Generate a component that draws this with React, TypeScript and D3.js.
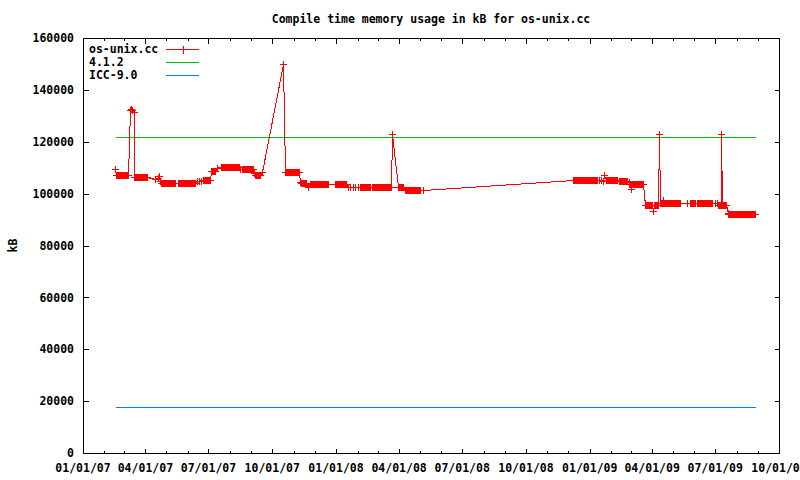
import React from "react";
import * as d3 from "d3";

// ---------- data ----------
const chartTitle = "Compile time memory usage in kB for os-unix.cc";
const yAxisLabel = "kB";
const seriesNames = ["os-unix.cc", "4.1.2", "ICC-9.0"];
const seriesColors = ["#ff0000", "#00c000", "#0080ff"];
const baseDate = "2007-01-01";
const xDomainDates = ["2007-01-01", "2009-10-01"];
const yDomain = [0, 160000];
const yTickValues = [0, 20000, 40000, 60000, 80000, 100000, 120000, 140000, 160000];

// os-unix.cc: days since 2007-01-01
const dayOffsets = [
  46,
  47, 48, 49, 50, 51, 52, 53, 54, 55, 56, 57, 58, 59, 60, 61, 62, 63, 64, 65,
  68, 69, 71, 73,
  74, 75, 76, 77, 78, 79, 80, 81, 82, 83, 84, 85, 86, 87, 88, 89, 90, 91, 92,
  104, 108, 109, 111,
  113, 114, 115, 116, 117, 118, 119, 120, 121, 122, 123, 124, 125, 126, 127, 128, 129, 130, 131, 132, 133,
  137, 138, 139, 140, 141, 142, 143, 144, 145, 146, 147, 148, 149, 150, 151, 152, 153, 154, 155, 156, 157, 158, 159, 160, 161,
  165, 168, 170,
  173, 174, 175, 176, 177, 178, 179, 180, 181, 182, 183,
  185, 186, 187, 188, 189, 190, 191, 193,
  199, 200, 201, 202, 203, 204, 205, 206, 207, 208, 209, 210, 211, 212, 213, 214, 215, 216, 217, 218, 219, 220, 221, 222, 223, 224, 225,
  227, 229,
  231, 232, 233, 234, 235, 236, 237, 238, 239, 240, 241, 242, 243, 244, 245,
  247, 248, 249, 250, 251, 252, 253, 254, 255, 258,
  289,
  291, 292, 293, 294, 295, 296, 297, 298, 299, 300, 301, 302, 303, 304, 305, 306, 307, 308, 309, 310, 311,
  313, 314, 315, 316, 317, 318, 319, 320, 321, 322, 325,
  327, 328, 329, 330, 331, 332, 333, 334, 335, 336, 337, 338, 339, 340, 341, 342, 343, 344, 345, 346, 347, 348, 349, 350, 351, 352, 353,
  363, 364, 365, 366, 367, 368, 369, 370, 371, 372, 373, 374, 375, 376, 377, 378, 379,
  382, 385, 389, 393, 397,
  400, 401, 402, 403, 404, 405, 406, 407, 408, 409, 410, 411, 412, 413, 414,
  417, 418, 419, 420, 421, 422, 423, 424, 425, 426, 427, 428, 429, 430, 431, 432, 433, 434, 435, 436, 437, 438, 439, 440, 441, 442, 443, 444, 445,
  446,
  455, 456, 457, 458, 459, 460, 461, 462,
  464, 465, 466, 467, 468, 469, 470, 471, 472, 473, 474, 475, 476, 477, 478, 479, 480, 481, 482, 483, 484, 485, 486, 491,
  707, 708, 709, 710, 711, 712, 713, 714, 715, 716, 717, 718, 719, 720, 721, 722, 723, 724, 725, 726, 727, 728, 729, 730, 731, 732, 733, 734, 735, 736, 737, 738, 739, 740, 741,
  744, 747, 750, 752,
  754, 755, 756, 757, 758, 759, 760, 761, 762, 763, 764, 765, 766, 767, 768, 769, 770,
  773, 774, 775, 776, 777, 778, 779, 780, 781, 782, 783, 784, 785,
  787, 788, 789, 790, 791, 792, 793, 794, 795, 796, 797, 798, 799, 800, 801, 802, 803, 804, 805, 806, 807, 808,
  810, 811, 812, 813, 814, 815, 816, 817, 818, 819, 820, 821, 822, 823, 824, 825, 826, 827, 828, 829, 830,
  831,
  833, 834, 835, 836, 837, 838, 839, 840, 841, 842, 843, 844, 845, 846, 847, 848, 849, 850, 851, 852, 853, 854, 855, 856, 857, 858, 859, 860, 861,
  871, 875, 876, 877, 878, 879, 880, 881, 882, 883,
  886, 887, 888, 889, 890, 891, 892, 893, 894, 895, 896, 897, 898, 899, 900, 901, 902, 903, 904, 905, 906, 907, 908,
  912, 914,
  916, 917, 918, 919, 920, 921, 922, 923, 924, 925, 926, 927, 928,
  930, 931, 932, 933, 934, 935, 936, 937, 938, 939, 940, 941, 942, 943, 944, 945, 946, 947, 948, 949, 950, 951, 952, 953, 954, 955, 956, 957, 958, 959, 960, 961, 962, 963, 964, 965, 966, 967, 968, 969,
];

// os-unix.cc: compile time memory usage in kB (same order as dayOffsets)
const memoryKB = [
  109500,
  107200, 107200, 107200, 107300, 107200, 107200, 107200, 107200, 107300, 107200, 107200, 107200, 107200, 107300, 107200, 107200, 107200, 107200, 107200,
  132300, 132700, 132400, 131300,
  106500, 106500, 106500, 106500, 106500, 106500, 106500, 106500, 106500, 106500, 106500, 106500, 106500, 106500, 106500, 106500, 106500, 106500, 106500,
  105800, 105900, 106800, 105000,
  104200, 104200, 104200, 104200, 104200, 104200, 104200, 104200, 104200, 104200, 104200, 104200, 104200, 104200, 104200, 104200, 104200, 104200, 104200, 104200, 104200,
  104200, 104200, 104200, 104200, 104200, 104200, 104200, 104200, 104200, 104200, 104200, 104200, 104200, 104200, 104200, 104200, 104200, 104200, 104200, 104200, 104200, 104200, 104200, 104200, 104200,
  104800, 104900, 104900,
  105400, 105400, 105400, 105400, 105400, 105400, 105400, 105400, 105400, 105400, 105400,
  108700, 108700, 108700, 108700, 108700, 108700, 108700, 109800,
  110100, 110100, 110100, 110100, 110100, 110100, 110100, 110100, 110100, 110100, 110100, 110100, 110100, 110400, 110400, 110400, 110400, 110400, 110400, 110400, 110400, 110400, 110400, 110400, 110400, 110400, 110400,
  109500, 109400,
  109400, 109400, 109400, 109400, 109400, 109400, 109400, 109400, 109400, 109400, 109400, 109400, 109400, 109400, 109400,
  107800, 107200, 107200, 107200, 107200, 107200, 107200, 107200, 107200, 108500,
  149900,
  108300, 108300, 108300, 108300, 108300, 108300, 108300, 108300, 108300, 108300, 108300, 108300, 108300, 108300, 108300, 108300, 108300, 108300, 108300, 108300, 108300,
  104600, 104000, 104000, 104000, 104000, 104000, 104000, 104000, 104000, 104000, 102600,
  103800, 103800, 103800, 103800, 103800, 103800, 103800, 103800, 103800, 103800, 103800, 103800, 103800, 103800, 103800, 103800, 103800, 103800, 103800, 103800, 103800, 103800, 103800, 103800, 103800, 103800, 103800,
  103800, 103800, 103800, 103800, 103800, 103800, 103800, 103800, 103800, 103800, 103800, 103800, 103800, 103800, 103800, 103800, 103800,
  102700, 102500, 102400, 102600, 102500,
  102600, 102600, 102600, 102600, 102600, 102600, 102600, 102600, 102600, 102600, 102600, 102600, 102600, 102600, 102600,
  102600, 102600, 102600, 102600, 102600, 102600, 102600, 102600, 102600, 102600, 102600, 102600, 102600, 102600, 102600, 102600, 102600, 102600, 102600, 102600, 102600, 102600, 102600, 102600, 102600, 102600, 102600, 102600, 102600,
  122800,
  102700, 102700, 102700, 102700, 102700, 102700, 102700, 102700,
  101300, 101300, 101300, 101300, 101300, 101300, 101300, 101300, 101300, 101300, 101300, 101300, 101300, 101300, 101300, 101300, 101300, 101300, 101300, 101300, 101300, 101300, 101300, 101300,
  105100, 105100, 105100, 105100, 105100, 105100, 105100, 105100, 105100, 105100, 105100, 105100, 105100, 105100, 105100, 105100, 105100, 105100, 105100, 105100, 105100, 105100, 105100, 105100, 105100, 105100, 105100, 105100, 105100, 105100, 105100, 105100, 105100, 105100, 105100,
  105100, 105100, 105000, 107200,
  105100, 105100, 105100, 105100, 105100, 105100, 105100, 105100, 105100, 105100, 105100, 105100, 105100, 105100, 105100, 105100, 105100,
  105000, 105000, 105000, 105000, 105000, 105000, 105000, 105000, 105000, 105000, 105000, 105000, 105000,
  104600, 103800, 103800, 103800, 101800, 103800, 103800, 103800, 103800, 103800, 103800, 103800, 103800, 103800, 103800, 103800, 103800, 103800, 103800, 103800, 103800, 103800,
  95600, 95600, 95600, 95600, 95600, 95600, 95600, 95600, 95600, 95600, 95600, 95600, 93400, 95600, 95600, 95600, 95600, 95600, 95600, 95600, 95600,
  123000,
  96500, 96500, 96500, 96500, 97400, 96500, 96500, 96500, 96500, 96500, 96500, 96500, 96500, 96500, 96500, 96500, 96500, 96500, 96500, 96500, 96500, 96500, 96500, 96500, 96500, 96500, 96500, 96500, 96500,
  96500, 96500, 96500, 96500, 96500, 96500, 96500, 96500, 96500, 96500,
  96500, 96500, 96500, 96500, 96500, 96500, 96500, 96500, 96500, 96500, 96500, 96500, 96500, 96500, 96500, 96500, 96500, 96500, 96500, 96500, 96500, 96500, 96500,
  96500, 96400,
  95500, 95500, 95500, 95500, 95500, 123000, 95500, 95500, 95500, 95500, 95500, 95500, 95500,
  92500, 92300, 92300, 92300, 92300, 92300, 92300, 92300, 92300, 92300, 92300, 92300, 92300, 92300, 92300, 92300, 92300, 92300, 92300, 92300, 92300, 92300, 92300, 92300, 92300, 92300, 92300, 92300, 92300, 92300, 92300, 92300, 92300, 92300, 92300, 92300, 92300, 92300, 92300, 92300,
];

// reference compilers (constant lines over the same period)
const referenceDays = [46, 969];
const gcc412KB = [121700, 121700];
const icc90KB = [17600, 17600];

// ---------- chart ----------
const FONT = "'DejaVu Sans Mono', 'Liberation Mono', monospace";

export default function App() {
  const W = 800;
  const H = 480;
  const left = 83;
  const right = 779;
  const top = 38;
  const bottom = 453;

  const parse = d3.utcParse("%Y-%m-%d");
  const base = parse(baseDate) as Date;
  const toDate = (d: number) => d3.utcDay.offset(base, d);

  const x = d3
    .scaleUtc()
    .domain([parse(xDomainDates[0]) as Date, parse(xDomainDates[1]) as Date])
    .range([left, right]);
  const y = d3.scaleLinear().domain(yDomain).range([bottom, top]);

  const px = (v: number) => Math.round(v) + 0.5;

  const n = Math.min(dayOffsets.length, memoryKB.length);
  const pts: [number, number][] = dayOffsets
    .slice(0, n)
    .map((d, i) => [x(toDate(d)), y(memoryKB[i])]);
  const lineGen = d3
    .line<[number, number]>()
    .x((p) => p[0])
    .y((p) => p[1]);

  const crossPath = (cx: number, cy: number, h = 3.5) => {
    const X = px(cx);
    const Y = px(cy);
    return `M${X - h},${Y}H${X + h}M${X},${Y - h}V${Y + h}`;
  };
  const crosses = pts.map((p) => crossPath(p[0], p[1])).join("");

  const refLine = (vals: number[]) =>
    lineGen(referenceDays.map((d, i) => [px(x(toDate(d))), px(y(vals[i]))] as [number, number])) || "";

  const months = d3.utcMonth.range(x.domain()[0], d3.utcDay.offset(x.domain()[1], 1));
  const fmt = d3.utcFormat("%m/%d/%y");
  const majorLen = 5;
  const minorLen = 2.5;

  const textStyle: React.CSSProperties = {
    fontFamily: FONT,
    fontWeight: "bold",
    fontSize: "11.5px",
  };

  const legendY = [49, 62, 74.5];

  return (
    <svg
      width={W}
      height={H}
      style={{ position: "absolute", left: 0, top: 0, background: "#fff" }}
    >
      <rect x={0} y={0} width={W} height={H} fill="#fff" />
      {/* title */}
      <text x={(left + right) / 2} y={23} textAnchor="middle" style={textStyle} fill="#000">
        {chartTitle}
      </text>
      {/* y axis label */}
      <text
        transform={`translate(17,${(top + bottom) / 2}) rotate(-90)`}
        textAnchor="middle"
        style={textStyle}
        fill="#000"
      >
        {yAxisLabel}
      </text>

      {/* ticks (mirrored on all four sides) */}
      <g shapeRendering="crispEdges" stroke="#000" strokeWidth={1}>
        {yTickValues.map((v) => (
          <g key={"yt" + v}>
            <line x1={px(left)} x2={px(left) + majorLen} y1={px(y(v))} y2={px(y(v))} />
            <line x1={px(right)} x2={px(right) - majorLen} y1={px(y(v))} y2={px(y(v))} />
          </g>
        ))}
        {months.map((m) => {
          const major = m.getUTCMonth() % 3 === 0;
          const len = major ? majorLen : minorLen;
          const xx = px(x(m));
          return (
            <g key={"xt" + m.getTime()}>
              <line x1={xx} x2={xx} y1={px(bottom)} y2={px(bottom) - len} />
              <line x1={xx} x2={xx} y1={px(top)} y2={px(top) + len} />
            </g>
          );
        })}
      </g>
      {yTickValues.map((v) => (
        <text
          key={"yl" + v}
          x={left - 9}
          y={y(v) + 4.2}
          textAnchor="end"
          style={textStyle}
          fill="#000"
        >
          {String(v)}
        </text>
      ))}
      {months
        .filter((m) => m.getUTCMonth() % 3 === 0)
        .map((m) => (
          <text
            key={"xl" + m.getTime()}
            x={x(m)}
            y={472}
            textAnchor="middle"
            style={textStyle}
            fill="#000"
          >
            {fmt(m)}
          </text>
        ))}

      {/* reference lines */}
      <path d={refLine(gcc412KB)} fill="none" stroke={seriesColors[1]} strokeWidth={1} shapeRendering="crispEdges" />
      <path d={refLine(icc90KB)} fill="none" stroke={seriesColors[2]} strokeWidth={1} shapeRendering="crispEdges" />

      {/* main series */}
      <path
        d={lineGen(pts.map((p) => [px(p[0]), px(p[1])] as [number, number])) || ""}
        fill="none"
        stroke={seriesColors[0]}
        strokeWidth={1}
        shapeRendering="crispEdges"
      />
      <path d={crosses} fill="none" stroke={seriesColors[0]} strokeWidth={1} shapeRendering="crispEdges" />

      {/* legend */}
      {seriesNames.map((name, i) => (
        <g key={"lg" + name}>
          <text x={89} y={legendY[i] + 4.3} style={textStyle} fill="#000">
            {name}
          </text>
          <line
            x1={166}
            x2={199}
            y1={px(legendY[i])}
            y2={px(legendY[i])}
            stroke={seriesColors[i]}
            strokeWidth={1}
            shapeRendering="crispEdges"
          />
          {i === 0 && (
            <path
              d={crossPath(182.5, legendY[i], 4)}
              stroke={seriesColors[0]}
              strokeWidth={1}
              fill="none"
              shapeRendering="crispEdges"
            />
          )}
        </g>
      ))}

      {/* border */}
      <rect
        x={px(left)}
        y={px(top)}
        width={Math.round(right) - Math.round(left)}
        height={Math.round(bottom) - Math.round(top)}
        fill="none"
        stroke="#000"
        strokeWidth={1}
        shapeRendering="crispEdges"
      />
    </svg>
  );
}
